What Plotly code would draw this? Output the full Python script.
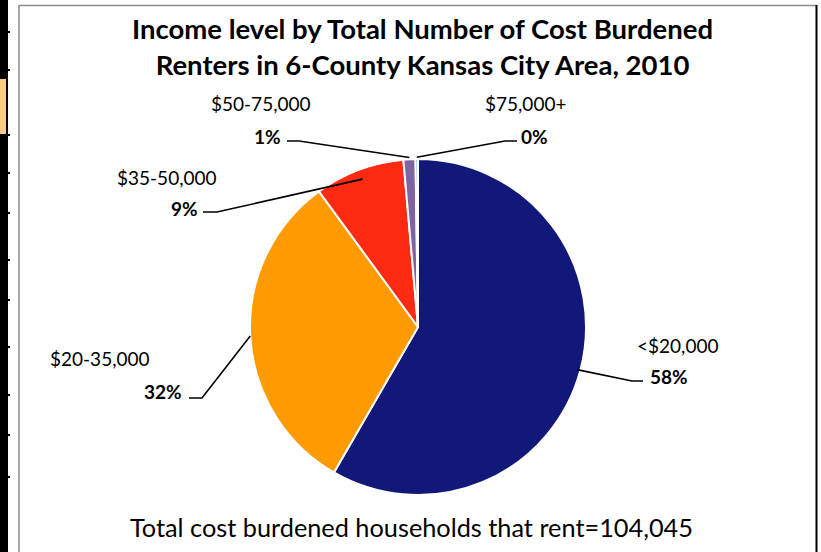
import math
import plotly.graph_objects as go

# ---- data ----
categories = ["<$20,000", "$20-35,000", "$35-50,000", "$50-75,000", "$75,000+"]
households = [60700, 32900, 9000, 1200, 245]
colors = ["#11187A", "#FF9A00", "#FF2A12", "#8064A2", "#4BACC6"]
title_lines = ["Income level by Total Number of Cost Burdened",
               "Renters in 6-County Kansas City Area, 2010"]
footnote = "Total cost burdened households that rent=104,045"

W, H = 821, 552
CX, CY, R = 418, 327, 168  # pie centre / radius in pixels (layout)


def px(x):
    return x / W


def py(y):
    return 1 - y / H


total = sum(households)
pcts = [v / total for v in households]

fig = go.Figure()
fig.add_trace(go.Pie(
    labels=categories,
    values=households,
    sort=False,
    direction="clockwise",
    rotation=0,
    marker=dict(colors=colors, line=dict(color="white", width=2)),
    textinfo="none",
    hoverinfo="label+percent",
    showlegend=False,
    domain=dict(x=[px(CX - R), px(CX + R)], y=[py(CY + R), py(CY - R)]),
))

# label layout (pixels): category label centre, pct label anchor, elbow segment, radial factor
label_layout = [
    dict(lx=677, ly=345, tx=648, ty=376, anchor="left", e1=643, e2=632, ly2=381, rf=0.98),
    dict(lx=100, ly=358, tx=184, ty=391, anchor="right", e1=189, e2=202, ly2=398, rf=1.0),
    dict(lx=167, ly=177, tx=200, ty=208, anchor="right", e1=203, e2=217, ly2=212, rf=0.94),
    dict(lx=261, ly=104, tx=283, ty=136, anchor="right", e1=287, e2=299, ly2=141, rf=1.01),
    dict(lx=525, ly=104, tx=519, ty=136, anchor="left", e1=517, e2=505, ly2=141, rf=1.01),
]

annotations = []
shapes = []
cum = 0.0
for cat, p, lay in zip(categories, pcts, label_layout):
    mid = (cum + p / 2) * 2 * math.pi
    cum += p
    ex = CX + R * lay["rf"] * math.sin(mid)
    ey = CY - R * lay["rf"] * math.cos(mid)
    annotations.append(dict(x=px(lay["lx"]), y=py(lay["ly"]), xref="paper", yref="paper",
                            text=cat, showarrow=False, xanchor="center", yanchor="middle",
                            font=dict(size=19, color="#000000")))
    annotations.append(dict(x=px(lay["tx"]), y=py(lay["ty"]), xref="paper", yref="paper",
                            text="<b>%d%%</b>" % round(p * 100), showarrow=False,
                            xanchor=lay["anchor"], yanchor="middle",
                            font=dict(size=19, color="#000000")))
    path = "M %f,%f L %f,%f L %f,%f" % (px(lay["e1"]), py(lay["ly2"]), px(lay["e2"]), py(lay["ly2"]),
                                         px(ex), py(ey))
    shapes.append(dict(type="path", path=path, xref="paper", yref="paper",
                       line=dict(color="black", width=1.6)))

# title & footnote
annotations.append(dict(x=px(422), y=py(46), xref="paper", yref="paper",
                        text="<b>" + title_lines[0] + "</b><br><b>" + title_lines[1] + "</b>",
                        showarrow=False, xanchor="center", yanchor="middle",
                        font=dict(size=27.5, color="#000000")))
annotations.append(dict(x=px(411), y=py(527), xref="paper", yref="paper",
                        text=footnote, showarrow=False, xanchor="center", yanchor="middle",
                        font=dict(size=25.3, color="#000000")))

# chart frame and the sheet edge on the left
shapes.append(dict(type="line", xref="paper", yref="paper", x0=px(19), x1=px(19), y0=0, y1=py(5),
                   line=dict(color="#8a8a8a", width=1.5)))
shapes.append(dict(type="line", xref="paper", yref="paper", x0=px(19), x1=px(817), y0=py(5.5), y1=py(5.5),
                   line=dict(color="#8a8a8a", width=1.5)))
shapes.append(dict(type="line", xref="paper", yref="paper", x0=px(816.5), x1=px(816.5), y0=0, y1=py(5),
                   line=dict(color="#000000", width=2)))
shapes.append(dict(type="rect", xref="paper", yref="paper", x0=0, x1=px(8), y0=0, y1=1,
                   fillcolor="#000000", line=dict(width=0)))
shapes.append(dict(type="rect", xref="paper", yref="paper", x0=0, x1=px(6), y0=py(136), y1=py(79),
                   fillcolor="#FFC98A", line=dict(width=0)))
for yy in [32, 70, 135, 173, 213, 260, 300, 347, 395, 435, 477]:
    shapes.append(dict(type="line", xref="paper", yref="paper", x0=0, x1=px(10), y0=py(yy), y1=py(yy),
                       line=dict(color="#000000", width=2)))

fig.update_layout(
    width=W, height=H,
    margin=dict(l=0, r=0, t=0, b=0),
    paper_bgcolor="white",
    plot_bgcolor="white",
    font=dict(family="Lato, 'Open Sans', sans-serif", color="#000000"),
    annotations=annotations,
    shapes=shapes,
)

fig.write_html("out.html", config={"displayModeBar": False},
               post_script="document.body.style.margin='0';document.body.style.overflow='hidden';")
